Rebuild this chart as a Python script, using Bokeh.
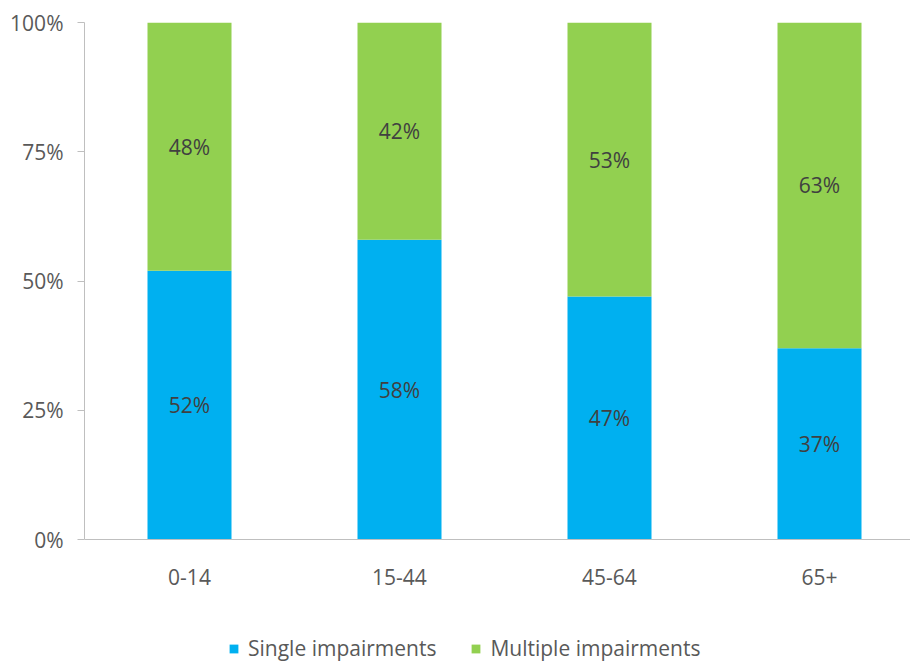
from bokeh.plotting import figure
from bokeh.models import ColumnDataSource, FixedTicker, NumeralTickFormatter, Legend, LegendItem, Range1d
from bokeh.core.properties import value
from bokeh.embed import file_html
from bokeh.resources import INLINE

categories = ["0-14", "15-44", "45-64", "65+"]
single = [52, 58, 47, 37]
multiple = [48, 42, 53, 63]
series_names = ["Single impairments", "Multiple impairments"]
colors = ["#00B0F0", "#92D050"]
y_ticks = [0, 0.25, 0.5, 0.75, 1.0]

FONT = "Open Sans"

xs = [i + 0.5 for i in range(len(categories))]
s_frac = [v / 100 for v in single]
m_frac = [v / 100 for v in multiple]
src = ColumnDataSource(dict(x=xs, single=s_frac, multiple=m_frac))

# frame extends below 0 so the legend can sit inside it
p = figure(frame_width=826, frame_height=640, output_backend="svg", toolbar_location=None,
           x_range=Range1d(0, 826 / 210), y_range=Range1d(-123 / 517, 1))
p.min_border_left = 84
p.min_border_right = 0
p.min_border_top = 22
p.min_border_bottom = 0
p.outline_line_color = None
p.xgrid.visible = False
p.ygrid.visible = False

rs = p.vbar_stack(["single", "multiple"], x="x", width=0.4, color=colors, source=src, line_color=None)

# data labels
lab_x = xs + xs
lab_y = [s / 2 for s in s_frac] + [s + m / 2 for s, m in zip(s_frac, m_frac)]
lab_t = [f"{v}%" for v in single] + [f"{v}%" for v in multiple]
p.text(x=lab_x, y=lab_y, text=lab_t, text_align="center", text_baseline="middle",
       text_font=value(FONT), text_font_size="21px", text_color="#404040")

axis_color = "#BFBFBF"
p.yaxis.ticker = FixedTicker(ticks=y_ticks)
p.yaxis.formatter = NumeralTickFormatter(format="0%")
p.yaxis.bounds = (0, 1)
p.yaxis.minor_tick_line_color = None
p.yaxis.major_tick_in = 0
p.yaxis.major_tick_out = 7
p.yaxis.axis_line_color = axis_color
p.yaxis.major_tick_line_color = axis_color
p.yaxis.major_label_standoff = 14
p.yaxis.major_label_text_font = FONT
p.yaxis.major_label_text_font_size = "21px"
p.yaxis.major_label_text_color = "#595959"

p.xaxis.fixed_location = 0
p.xaxis.ticker = FixedTicker(ticks=xs)
p.xaxis.major_label_overrides = {x: c for x, c in zip(xs, categories)}
p.xaxis.minor_tick_line_color = None
p.xaxis.major_tick_line_color = None
p.xaxis.axis_line_color = axis_color
p.xaxis.major_label_standoff = 23
p.xaxis.major_label_text_font = FONT
p.xaxis.major_label_text_font_size = "21px"
p.xaxis.major_label_text_color = "#595959"

legend = Legend(items=[LegendItem(label=series_names[0], renderers=[rs[0]]),
                       LegendItem(label=series_names[1], renderers=[rs[1]])],
                orientation="horizontal", location=(144, 0))
legend.label_text_font = FONT
legend.label_text_font_size = "21px"
legend.label_text_color = "#595959"
legend.label_height = 20
legend.glyph_width = 11
legend.glyph_height = 11
legend.label_standoff = 9
legend.spacing = 34
legend.padding = 0
legend.border_line_color = None
legend.background_fill_alpha = 0
legend.margin = 0
p.add_layout(legend, "center")

open("out.html", "w").write(file_html(p, INLINE))
